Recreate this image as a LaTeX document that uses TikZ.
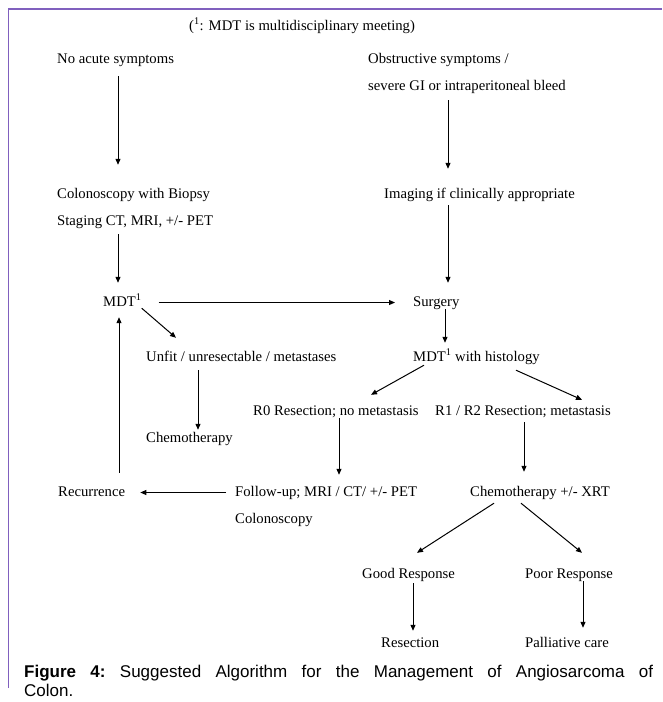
\documentclass[tikz,border=0pt]{standalone}
\usepackage{fontspec}
\setmainfont{Liberation Serif}
\newfontfamily\capfont{Liberation Sans}
\usetikzlibrary{arrows.meta,calc}
\definecolor{borderpurple}{RGB}{128,96,190}
\begin{document}
\begin{tikzpicture}[x=1pt,y=-1pt,
  lbl/.style={anchor=base west, inner sep=0pt, text height=10pt, text depth=3pt, font=\fontsize{14.7}{17}\selectfont},
  arr/.style={-{Triangle[length=6pt,width=5pt]}, line width=1pt},
  frametop/.style={draw=borderpurple, line width=1.8pt},
  frameleft/.style={draw=borderpurple, line width=1.3pt},
  captext/.style={anchor=base west, inner sep=0pt, font=\capfont\fontsize{17}{19}\selectfont\frenchspacing}]
\useasboundingbox (0,0) rectangle (662,702);
\draw[frameleft] (8.5,688) -- (8.5,9);
\draw[frametop] (7.85,9) -- (662,9);
% column coordinates
\coordinate (cL) at (118,0);
\coordinate (cL2) at (119,0);
\coordinate (cR) at (448,0);
\coordinate (cU) at (198,0);
\coordinate (cS) at (445,0);
\coordinate (cF) at (339,0);
\coordinate (cX) at (524,0);
\coordinate (cG) at (413,0);
\coordinate (cP) at (583,0);
% nodes
\node[lbl] (foot) at (189,30) {(\textsuperscript{1}: MDT is multidisciplinary meeting)};
\node[lbl] (noacute) at (57,63) {No acute symptoms};
\node[lbl] (obs1) at (368,63) {Obstructive symptoms /};
\node[lbl] (obs2) at (368,90) {severe GI or intraperitoneal bleed};
\node[lbl] (colon1) at (57,198) {Colonoscopy with Biopsy};
\node[lbl] (staging) at (57,225) {Staging CT, MRI, +/- PET};
\node[lbl] (imaging) at (384,198) {Imaging if clinically appropriate};
\node[lbl] (mdt) at (103,306) {MDT\textsuperscript{1}};
\node[lbl] (surgery) at (413,306) {Surgery};
\node[lbl] (unfit) at (146,361) {Unfit / unresectable / metastases};
\node[lbl] (mdth) at (413,361) {MDT\textsuperscript{1} with histology};
\node[lbl] (r0) at (253,415) {R0 Resection; no metastasis};
\node[lbl] (r1) at (435,415) {R1 / R2 Resection; metastasis};
\node[lbl] (chemo) at (146,442) {Chemotherapy};
\node[lbl] (recur) at (58,496) {Recurrence};
\node[lbl] (follow) at (235,496) {Follow-up; MRI / CT/ +/- PET};
\node[lbl] (colon2) at (235,523) {Colonoscopy};
\node[lbl] (chemox) at (470,496) {Chemotherapy +/- XRT};
\node[lbl] (good) at (362,578) {Good Response};
\node[lbl] (poor) at (525,578) {Poor Response};
\node[lbl] (resec) at (381,647) {Resection};
\node[lbl] (pall) at (525,647) {Palliative care};
% connectors
\draw[arr, shorten <=10pt, shorten >=23pt] (noacute.south -| cL) -- (colon1.north -| cL);
\draw[arr, shorten <=7pt, shorten >=19pt] (obs2.south -| cR) -- (imaging.north -| cR);
\draw[arr, shorten <=6pt, shorten >=13pt] (staging.south -| cL) -- (mdt.north -| cL);
\draw[arr, shorten <=4pt, shorten >=13pt] (imaging.south -| cR) -- (surgery.north -| cR);
\draw[arr, shorten <=17pt, shorten >=18pt] (mdt.east) -- (surgery.west);
\draw[arr] ($(mdt.south east)+(0,-1)$) -- ($(unfit.north west)+(30,-13)$);
\draw[arr, shorten <=13pt, shorten >=8pt] (recur.north -| cL2) -- (mdt.south -| cL2);
\draw[arr, shorten <=6pt, shorten >=2pt] (unfit.south -| cU) -- (chemo.north -| cU);
\draw[arr, shorten >=8pt] (surgery.south -| cS) -- (mdth.north -| cS);
\draw[arr] ($(mdth.south west)+(11,1)$) -- ($(r0.north west)+(118,-10)$);
\draw[arr] ($(mdth.south west)+(103,6)$) -- ($(r1.north west)+(147,-5)$);
\draw[arr, shorten >=11pt] (r0.south -| cF) -- (follow.north -| cF);
\draw[arr, shorten <=4pt, shorten >=14pt] (r1.south -| cX) -- (chemox.north -| cX);
\draw[arr, shorten <=9pt, shorten >=15pt] (follow.west) -- (recur.east);
\draw[arr] ($(chemox.south west)+(24,4)$) -- ($(good.north west)+(55,-15)$);
\draw[arr] ($(chemox.south west)+(51,4)$) -- ($(poor.north west)+(57,-15)$);
\draw[arr, shorten <=2pt, shorten >=6pt] (good.south -| cG) -- (resec.north -| cG);
\draw[arr, shorten >=9pt] (poor.south -| cP) -- (pall.north -| cP);
% caption
\node[captext] (cap1) at (24,677) {\makebox[629pt][s]{\textbf{Figure 4:} Suggested Algorithm for the Management of Angiosarcoma of}};
\node[captext] (cap2) at (24,696) {Colon.};
\end{tikzpicture}
\end{document}
